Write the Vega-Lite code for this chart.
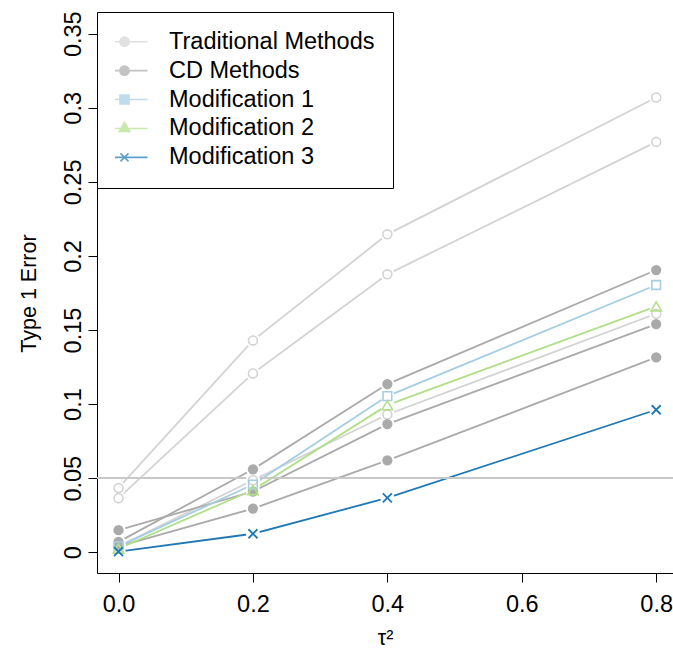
{
  "$schema": "https://vega.github.io/schema/vega-lite/v6.json",
  "width": 576,
  "height": 560,
  "autosize": {"type": "none"},
  "padding": {"left": 97, "top": 13, "right": 0, "bottom": 77},
  "background": "white",
  "config": {
    "view": {"stroke": null},
    "font": "Liberation Sans",
    "axis": {
      "grid": false,
      "domainColor": "black",
      "tickColor": "black",
      "labelColor": "black",
      "titleColor": "black",
      "labelFont": "Liberation Sans",
      "titleFont": "Liberation Sans",
      "labelFontSize": 23.5,
      "titleFontSize": 21.5,
      "titleFontWeight": "normal",
      "tickSize": 9,
      "domainWidth": 1,
      "tickWidth": 1
    }
  },
  "data": {
    "values": [
      {"method": "Traditional Methods", "series": "T1", "tau2": 0.0, "error": 0.0434},
      {"method": "Traditional Methods", "series": "T1", "tau2": 0.2, "error": 0.143},
      {"method": "Traditional Methods", "series": "T1", "tau2": 0.4, "error": 0.2146},
      {"method": "Traditional Methods", "series": "T1", "tau2": 0.8, "error": 0.307},
      {"method": "Traditional Methods", "series": "T2", "tau2": 0.0, "error": 0.0365},
      {"method": "Traditional Methods", "series": "T2", "tau2": 0.2, "error": 0.1207},
      {"method": "Traditional Methods", "series": "T2", "tau2": 0.4, "error": 0.1876},
      {"method": "Traditional Methods", "series": "T2", "tau2": 0.8, "error": 0.277},
      {"method": "Traditional Methods", "series": "T3", "tau2": 0.0, "error": 0.004},
      {"method": "Traditional Methods", "series": "T3", "tau2": 0.2, "error": 0.0486},
      {"method": "Traditional Methods", "series": "T3", "tau2": 0.4, "error": 0.093},
      {"method": "Traditional Methods", "series": "T3", "tau2": 0.8, "error": 0.161},
      {"method": "CD Methods", "series": "C1", "tau2": 0.0, "error": 0.007},
      {"method": "CD Methods", "series": "C1", "tau2": 0.2, "error": 0.056},
      {"method": "CD Methods", "series": "C1", "tau2": 0.4, "error": 0.1135},
      {"method": "CD Methods", "series": "C1", "tau2": 0.8, "error": 0.1905},
      {"method": "CD Methods", "series": "C2", "tau2": 0.0, "error": 0.0149},
      {"method": "CD Methods", "series": "C2", "tau2": 0.2, "error": 0.041},
      {"method": "CD Methods", "series": "C2", "tau2": 0.4, "error": 0.0865},
      {"method": "CD Methods", "series": "C2", "tau2": 0.8, "error": 0.154},
      {"method": "CD Methods", "series": "C3", "tau2": 0.0, "error": 0.004},
      {"method": "CD Methods", "series": "C3", "tau2": 0.2, "error": 0.0295},
      {"method": "CD Methods", "series": "C3", "tau2": 0.4, "error": 0.062},
      {"method": "CD Methods", "series": "C3", "tau2": 0.8, "error": 0.1315},
      {"method": "Modification 1", "series": "M1", "tau2": 0.0, "error": 0.004},
      {"method": "Modification 1", "series": "M1", "tau2": 0.2, "error": 0.0457},
      {"method": "Modification 1", "series": "M1", "tau2": 0.4, "error": 0.1054},
      {"method": "Modification 1", "series": "M1", "tau2": 0.8, "error": 0.1804},
      {"method": "Modification 2", "series": "M2", "tau2": 0.0, "error": 0.0025},
      {"method": "Modification 2", "series": "M2", "tau2": 0.2, "error": 0.042},
      {"method": "Modification 2", "series": "M2", "tau2": 0.4, "error": 0.0993},
      {"method": "Modification 2", "series": "M2", "tau2": 0.8, "error": 0.166},
      {"method": "Modification 3", "series": "M3", "tau2": 0.0, "error": 0.0005},
      {"method": "Modification 3", "series": "M3", "tau2": 0.2, "error": 0.0125},
      {"method": "Modification 3", "series": "M3", "tau2": 0.4, "error": 0.0367},
      {"method": "Modification 3", "series": "M3", "tau2": 0.8, "error": 0.0962}
    ]
  },
  "layer": [
    {
      "mark": {"type": "line", "strokeWidth": 1.8},
      "encoding": {
        "x": {
          "field": "tau2",
          "type": "quantitative",
          "scale": {"domain": [-0.032, 0.825], "nice": false, "zero": false},
          "axis": {"values": [0, 0.2, 0.4, 0.6, 0.8], "format": ".1f", "title": "τ²", "labelPadding": 10.5, "titlePadding": 11}
        },
        "y": {
          "field": "error",
          "type": "quantitative",
          "scale": {"domain": [-0.014, 0.364], "nice": false, "zero": false},
          "axis": {
            "values": [0, 0.05, 0.1, 0.15, 0.2, 0.25, 0.3, 0.35],
            "format": ".2~f",
            "labelAngle": -90,
            "labelAlign": "center",
            "labelBaseline": "alphabetic",
            "labelPadding": 8,
            "title": "Type 1 Error",
            "titlePadding": 21
          }
        },
        "color": {
          "field": "method",
          "type": "nominal",
          "scale": {
            "domain": ["Traditional Methods", "CD Methods", "Modification 1", "Modification 2", "Modification 3"],
            "range": ["#d3d3d3", "#aaaaaa", "#a6cee3", "#b2df8a", "#1f78b4"]
          },
          "legend": {
            "title": null,
            "orient": "none",
            "legendX": 0,
            "legendY": -1,
            "padding": 18,
            "rowPadding": 3.9,
            "clipHeight": 23.5,
            "symbolSize": 2116,
            "symbolOffset": -14.5,
            "labelOffset": 20.5,
            "symbolStrokeWidth": 1.6,
            "symbolOpacity": 1,
            "symbolFillColor": "transparent",
            "labelFontSize": 23.5,
            "labelFont": "Liberation Sans",
            "labelColor": "black",
            "labelLimit": 0,
            "strokeColor": "black",
            "fillColor": "white"
          }
        },
        "detail": {"field": "series", "type": "nominal"}
      }
    },
    {
      "transform": [{"filter": "datum.tau2 < 0"}],
      "mark": {"type": "point", "filled": false, "strokeWidth": 1.6},
      "encoding": {
        "x": {"field": "tau2", "type": "quantitative"},
        "y": {"field": "error", "type": "quantitative"},
        "color": {"field": "method", "type": "nominal"},
        "shape": {
          "field": "method",
          "type": "nominal",
          "scale": {
            "domain": ["Traditional Methods", "CD Methods", "Modification 1", "Modification 2", "Modification 3"],
            "range": [
              "M-1,0H1M0.2,0A0.2,0.2 0 1,1 -0.2,0A0.2,0.2 0 1,1 0.2,0Z",
              "M-1,0H1M0.2,0A0.2,0.2 0 1,1 -0.2,0A0.2,0.2 0 1,1 0.2,0ZM0.15,0A0.15,0.15 0 1,1 -0.15,0A0.15,0.15 0 1,1 0.15,0ZM0.1,0A0.1,0.1 0 1,1 -0.1,0A0.1,0.1 0 1,1 0.1,0ZM0.05,0A0.05,0.05 0 1,1 -0.05,0A0.05,0.05 0 1,1 0.05,0Z",
              "M-1,0H1M-0.196,-0.196H0.196V0.196H-0.196Z",
              "M-1,0H1M0,-0.263L-0.228,0.132L0.228,0.132Z",
              "M-1,0H1M-0.174,-0.174L0.174,0.174M0.174,-0.174L-0.174,0.174"
            ]
          },
          "legend": {
            "title": null,
            "orient": "none",
            "legendX": 0,
            "legendY": -1,
            "padding": 18,
            "rowPadding": 3.9,
            "clipHeight": 23.5,
            "symbolSize": 2116,
            "symbolOffset": -14.5,
            "labelOffset": 20.5,
            "symbolStrokeWidth": 1.6,
            "symbolOpacity": 1,
            "symbolFillColor": "transparent",
            "labelFontSize": 23.5,
            "labelFont": "Liberation Sans",
            "labelColor": "black",
            "labelLimit": 0,
            "strokeColor": "black",
            "fillColor": "white"
          }
        }
      }
    },
    {
      "mark": {"type": "rule", "color": "#c8c8c8", "strokeWidth": 1},
      "encoding": {"y": {"datum": 0.05, "type": "quantitative"}}
    },
    {
      "mark": {"type": "point", "filled": true, "color": "white", "shape": "circle", "size": 200, "opacity": 1},
      "encoding": {
        "x": {"field": "tau2", "type": "quantitative"},
        "y": {"field": "error", "type": "quantitative"}
      }
    },
    {
      "transform": [{"filter": "datum.method === 'Traditional Methods'"}],
      "mark": {"type": "point", "filled": false, "shape": "circle", "strokeWidth": 1.6, "size": 80, "opacity": 1},
      "encoding": {
        "x": {"field": "tau2", "type": "quantitative"},
        "y": {"field": "error", "type": "quantitative"},
        "color": {"field": "method", "type": "nominal", "legend": null}
      }
    },
    {
      "transform": [{"filter": "datum.method === 'CD Methods'"}],
      "mark": {"type": "point", "filled": true, "shape": "circle", "size": 105, "opacity": 1},
      "encoding": {
        "x": {"field": "tau2", "type": "quantitative"},
        "y": {"field": "error", "type": "quantitative"},
        "color": {"field": "method", "type": "nominal", "legend": null}
      }
    },
    {
      "transform": [{"filter": "datum.method === 'Modification 1'"}],
      "mark": {"type": "point", "filled": false, "shape": "square", "strokeWidth": 1.6, "size": 75, "opacity": 1},
      "encoding": {
        "x": {"field": "tau2", "type": "quantitative"},
        "y": {"field": "error", "type": "quantitative"},
        "color": {"field": "method", "type": "nominal", "legend": null}
      }
    },
    {
      "transform": [{"filter": "datum.method === 'Modification 2'"}],
      "mark": {"type": "point", "filled": false, "shape": "triangle-up", "strokeWidth": 1.6, "size": 110, "opacity": 1},
      "encoding": {
        "x": {"field": "tau2", "type": "quantitative"},
        "y": {"field": "error", "type": "quantitative"},
        "color": {"field": "method", "type": "nominal", "legend": null}
      }
    },
    {
      "transform": [{"filter": "datum.method === 'Modification 3'"}],
      "mark": {"type": "point", "filled": false, "shape": "M-1,-1L1,1M1,-1L-1,1", "strokeWidth": 1.8, "size": 81, "opacity": 1},
      "encoding": {
        "x": {"field": "tau2", "type": "quantitative"},
        "y": {"field": "error", "type": "quantitative"},
        "color": {"field": "method", "type": "nominal", "legend": null}
      }
    }
  ]
}
